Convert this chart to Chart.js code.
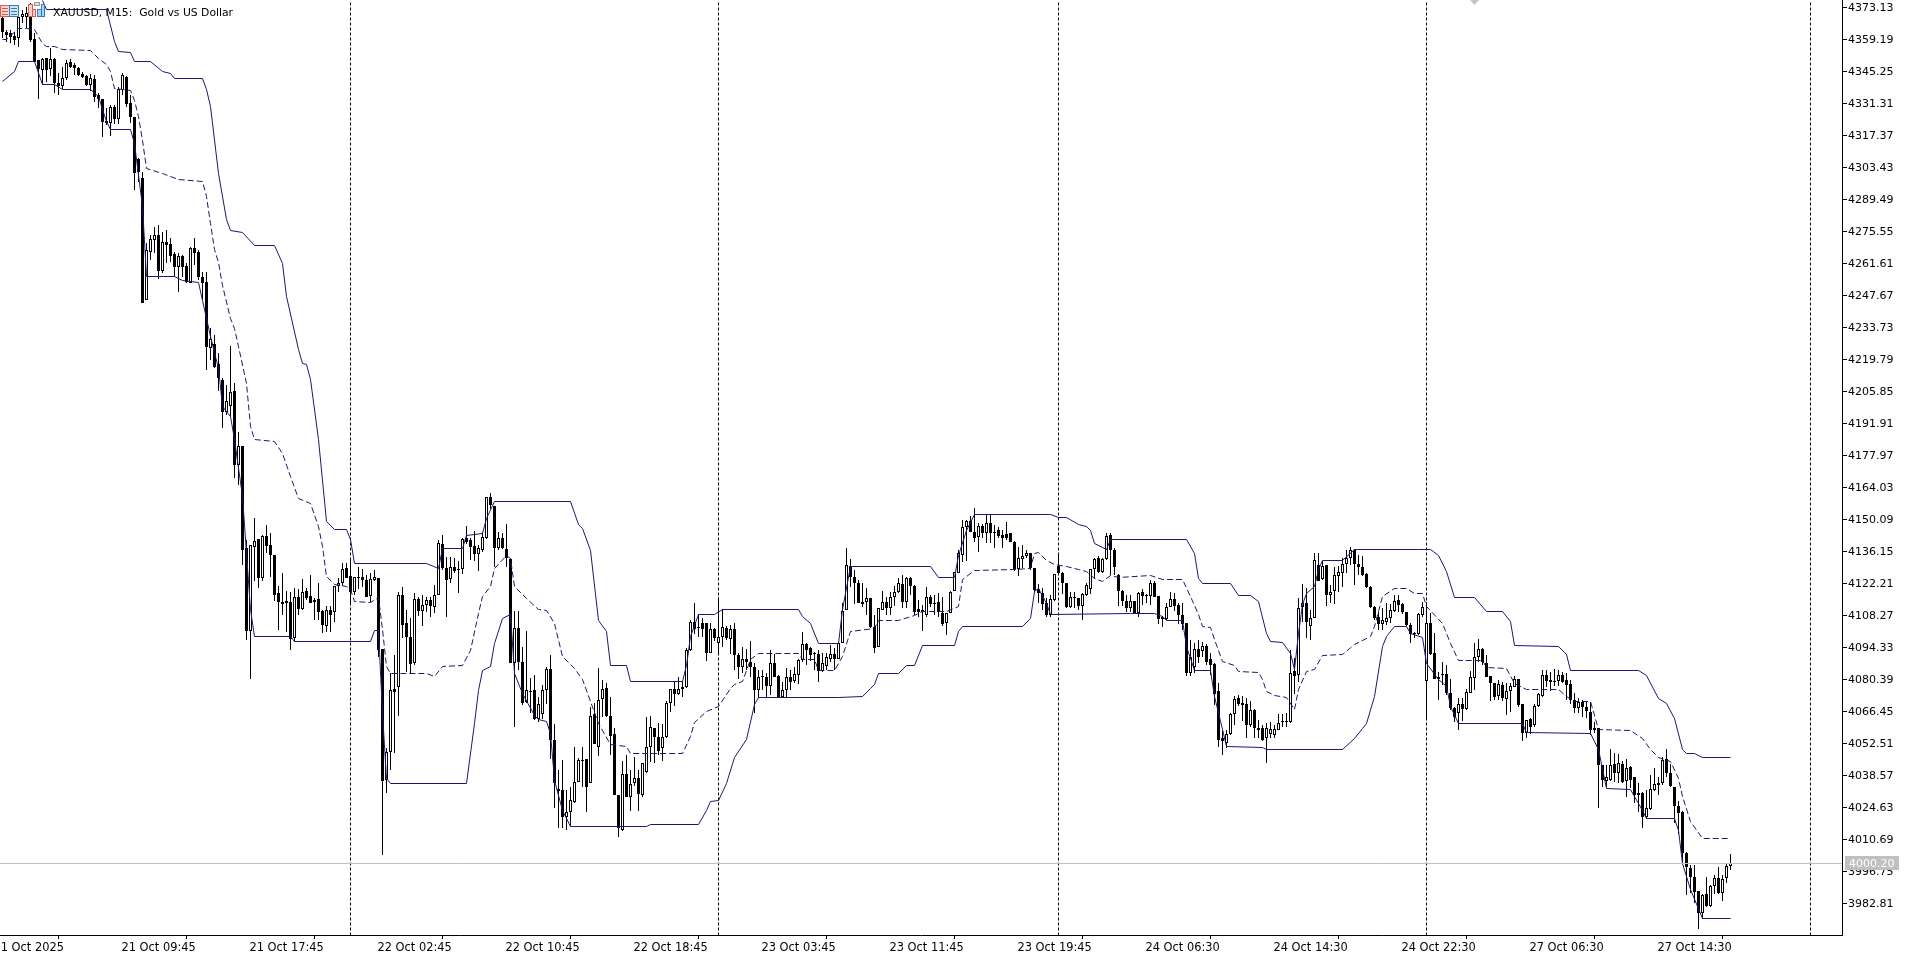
<!DOCTYPE html>
<html>
<head>
<meta charset="utf-8">
<title>XAUUSD, M15</title>
<style>html,body{margin:0;padding:0;background:#fff}canvas{display:block}</style>
<script src="https://cdn.jsdelivr.net/npm/chart.js@4"></script>
</head>
<body>
<canvas id="c" width="1912" height="954"></canvas>
<script>
const opens=[
4368.2,4362.4,4361.7,4360.5,4359.5,4368.6,4368.9,4368.9,4359.1,4350.1,
4345.7,4350.8,4346,4350.5,4340.2,4338.7,4342.1,4349,4347.9,4346.4,
4344,4343.1,4339.2,4341.8,4334.8,4332.9,4323.6,4322.8,4329.7,4324.2,
4337,4342.5,4331.2,4325.1,4306.8,4298.5,4245.5,4266.6,4271.7,4273.8,
4258.3,4270.8,4269.9,4265.6,4260,4264.7,4260.3,4253.1,4268,4266.6,
4255.4,4253.4,4224.5,4226.4,4217.7,4210.7,4196.9,4199.5,4205.8,4173.7,
4181.7,4137.4,4101.5,4138.1,4141.3,4124.3,4142.7,4138.8,4134.5,4117.8,
4113.9,4114.3,4113.9,4098.2,4116,4110.9,4118.9,4116.6,4113.9,4115.3,
4110.1,4103.7,4110.5,4109.5,4121,4122.4,4128.7,4125.3,4118.1,4124.7,
4124.7,4123.6,4116.6,4123.6,4124.3,4093.3,4036.4,4048.8,4075.9,4076.8,
4117,4104.7,4098.9,4087.5,4115.1,4110.2,4112.6,4114.8,4111.9,4117,
4139.2,4128.6,4123.8,4129.1,4128.2,4128.2,4141.7,4141,4138.3,4134.9,
4136.6,4141.7,4159.5,4155.8,4137.3,4141.7,4136.9,4132.5,4087.5,4102.5,
4088,4070.5,4075.3,4075.6,4062.8,4065.2,4075.6,4084.6,4053.8,4032.4,
4032.1,4020.4,4022.6,4027,4035.7,4045.1,4045.4,4035.3,4065.2,4050.6,
4071.6,4076.3,4064.3,4056.4,4029.9,4014.7,4039,4029.2,4035,4037.1,
4029.9,4040.1,4050.6,4058.9,4055.3,4050.2,4055,4069.8,4075.9,4073.7,
4076.8,4076.8,4093.1,4105.4,4103.2,4104.7,4104.7,4091.9,4102.1,4096,
4098.6,4102.5,4097.7,4102.2,4090.9,4085.8,4089,4088,4085.8,4075.6,
4081.7,4081.4,4077.5,4087.3,4081.7,4072.7,4075.6,4081.4,4079.7,4082.2,
4088.7,4095.7,4093.8,4091.6,4091.3,4084,4086.2,4089,4091.3,4089,
4096.3,4110.5,4129.7,4125,4122.4,4113.1,4114.1,4115.6,4102.9,4094.5,
4110.5,4114.1,4111.2,4116,4118.5,4121.8,4114.1,4124.3,4120.9,4110.8,
4110.5,4108.3,4116.3,4113.7,4114.1,4109,4105,4109.3,4118.9,4126.7,
4134.4,4146.8,4149.4,4144.6,4142.1,4147.1,4143.9,4148.2,4144.6,4145.3,
4143.2,4143.6,4143.9,4140.2,4128.2,4132.6,4134,4135.2,4128.6,4119.5,
4118,4113.4,4108.3,4114.8,4129.7,4126.8,4122.1,4111.7,4116,4115.6,
4112,4117,4119.5,4128.2,4133,4127.2,4132.6,4143.2,4136.7,4125.8,
4118.9,4114.4,4111.3,4114.2,4109.1,4118.1,4117.2,4116.6,4122.1,4116.6,
4107.6,4106.5,4111.7,4115.2,4112.7,4108.3,4104.7,4083,4085.8,4093.4,
4092.4,4094.8,4089,4086.9,4075,4054.6,4052.7,4056.5,4065.2,4072.1,
4069.9,4069.6,4060.4,4067,4059,4059,4054.6,4056.5,4056.1,4058.3,
4062.2,4062.2,4061.5,4083.7,4082.2,4111.7,4113.7,4103.6,4106.9,4130.1,
4123.9,4130.1,4117,4118.9,4125.3,4126.8,4130.6,4133,4136.7,4130.6,
4129.4,4126.2,4120.7,4111.7,4107.6,4104.4,4105.4,4106.9,4110.2,4114.9,
4113.1,4109.4,4104,4100.4,4100.1,4108.3,4079.7,4104.9,4091.6,4080.3,
4082.6,4082.6,4074.4,4067.6,4065.4,4069.5,4067.2,4074.4,4080.7,4090.1,
4093.3,4087.2,4081.7,4078.5,4073,4077.8,4071.5,4075.3,4077.1,4080.2,
4069.5,4057,4062.8,4060.4,4068.6,4073,4082.1,4080,4079.7,4079.7,
4082.1,4080,4078.2,4071.2,4067.6,4070.5,4068.3,4066.2,4058.9,4058.9,
4042.9,4036.1,4036.4,4043.4,4039.6,4043.4,4036.1,4041.9,4037.6,4030.6,
4030.6,4020.1,4023.6,4032,4034.9,4034.9,4045.4,4039.3,4033.5,4025.1,
4022.6,4004.7,3997.9,3994.3,3988,3978.6,3986.6,3981.5,3990.2,3993.6,
3987.3,3993.6,3999.1];
const highs=[
4373.3,4363.1,4363.1,4362.4,4371.8,4371.8,4373.3,4374.7,4361.7,4350.1,
4350.8,4350.8,4355.1,4350.8,4344.3,4347.2,4350.1,4350.4,4348.9,4347.2,
4345,4343.5,4344,4343.5,4335.5,4332.9,4329,4330.5,4330.5,4338.2,
4344.3,4343.1,4334.8,4325.4,4307.2,4301.4,4270.2,4273.8,4277.5,4278.2,
4275.3,4276,4272.4,4266.6,4266.1,4265.1,4261.8,4268.7,4272.4,4267.3,
4257.9,4257.9,4233.2,4230.3,4222.3,4211.4,4208.5,4225.5,4209.3,4187.8,
4182,4141,4138.8,4150.4,4141.3,4143.2,4147.5,4143.9,4134.5,4120.9,
4126.5,4118.9,4118.5,4119.9,4119.5,4123.9,4119.9,4125.8,4115.6,4122.1,
4110.5,4112,4112,4121,4124.3,4130.8,4130.8,4132.3,4125,4129.4,
4128.2,4125.8,4126.5,4127.9,4124.3,4093.3,4050.2,4082.9,4090.9,4118.5,
4120.3,4110.5,4106.8,4117.7,4116,4117,4116.3,4116.3,4121.4,4141,
4143.1,4133.7,4133.4,4133,4132,4141.7,4147.1,4141.7,4145,4138.8,
4144.6,4159.5,4161.3,4155.8,4144.6,4143.9,4148,4133,4110.2,4110.2,
4094.5,4101.5,4080.7,4082.2,4072.4,4077.8,4085.8,4090.9,4060.8,4040.8,
4045.1,4032.1,4033.5,4051,4045.9,4050.9,4045.4,4068.4,4069.8,4085.1,
4080,4078.5,4072.7,4058.9,4029.9,4044.8,4047.3,4040.8,4046.3,4040.8,
4043.7,4063.7,4064.3,4058.9,4061.1,4060.8,4071,4075.9,4079.3,4081.1,
4079.7,4093.8,4106.1,4113.7,4108.7,4106.8,4105,4105,4102.5,4116.3,
4110.8,4103.5,4103.9,4105,4091.6,4094.5,4093.3,4097.1,4087.3,4084.3,
4084.3,4082.9,4093,4091.3,4082.2,4079.3,4085.1,4084.3,4085.8,4089,
4101,4096.3,4094.5,4092.3,4093,4091.6,4091.9,4095.2,4093.8,4096.7,
4113.4,4137.3,4132.6,4127.9,4123.6,4122.1,4119.9,4115.6,4108.3,4111.2,
4118.9,4116.3,4118.5,4120.9,4124.3,4125.7,4125,4125,4121.4,4114.8,
4112.7,4120.4,4117,4117,4117.7,4116,4109,4118.9,4127.2,4136.6,
4149.7,4149.7,4151.4,4154.8,4148.5,4147.9,4151.9,4152.3,4147.5,4146.8,
4145.3,4149,4144.2,4140.7,4138.1,4138.8,4136.6,4135.5,4128.6,4121.8,
4119.9,4115.6,4117,4126.2,4134.4,4127.1,4122.4,4118.1,4118.5,4115.6,
4117.8,4122.1,4128.2,4133,4133.8,4133.3,4143.9,4143.9,4137.4,4126.2,
4119.2,4117.1,4117.1,4114.2,4118.1,4119.5,4117.5,4123.6,4122.9,4116.6,
4107.9,4113.7,4118.1,4117.8,4113.4,4113.4,4104.7,4097.5,4096.3,4097.5,
4096.7,4095.7,4091.7,4087.3,4078.6,4058.3,4058.3,4065.5,4072.8,4073.5,
4072.8,4072.1,4071,4067.3,4062.6,4060.4,4061.2,4061.5,4060.4,4065.2,
4065.2,4065.5,4093.1,4089.5,4115.6,4121.8,4120,4110.5,4135.2,4135.2,
4131.6,4130.1,4121.4,4129.1,4129.7,4133,4136.7,4138.1,4137,4134.5,
4134,4126.5,4121,4112.3,4109.8,4111.3,4113.4,4113.1,4117,4117,
4113.4,4109.7,4104.7,4101.1,4109.1,4114.1,4114.1,4109,4100.3,4083.6,
4088,4086.5,4080.2,4068.3,4072,4072,4075.9,4084,4095.9,4097.8,
4093.8,4090.9,4081.7,4078.8,4080,4079.2,4078.5,4078.8,4081.7,4080.2,
4069.5,4062.5,4063.3,4069.5,4074.4,4084.3,4084.3,4083.6,4084.6,4084.3,
4083.6,4082.9,4080,4074.2,4072,4071.2,4070.5,4070.5,4061.8,4058.9,
4042.9,4042.9,4049.7,4048.3,4047.7,4044.8,4045.4,4042.5,4037.6,4034.9,
4031.3,4032,4038.6,4041.5,4037.6,4046.3,4049.7,4043.4,4033.5,4027.4,
4023,4005.2,3999.4,3999.4,3988,3986.7,3994,3990.7,3995,3998.4,
3995,4000.4,4004.2];
const lows=[
4359.5,4358,4357.3,4356.6,4355.9,4366,4363.9,4358,4349.3,4332.9,
4339.2,4340.6,4343.1,4335.8,4334.8,4337.3,4341.4,4346.4,4343.5,4343.1,
4342.1,4338.7,4336.7,4331.9,4329,4316.7,4321.8,4317,4322.2,4322.2,
4334.8,4329.7,4322.5,4293.4,4297.1,4244.4,4245.5,4262.9,4265.8,4254.5,
4257.4,4261.5,4262.2,4255.4,4249.2,4255.7,4253.1,4252.8,4260.8,4254.2,
4245.5,4215,4219.4,4215.8,4206,4189.6,4195.5,4194.7,4167.9,4165,
4130.1,4097.2,4080.6,4122.9,4120.2,4122.9,4135.2,4125,4114.6,4101.8,
4108.3,4101.1,4093.1,4096.7,4108.3,4110.5,4114.9,4113.4,4106.2,4106.2,
4100.4,4101.1,4101.1,4105.4,4118.5,4121,4124.3,4112.7,4117,4119.5,
4120.7,4116,4114.1,4123.3,4090.2,4003.9,4030.9,4040.8,4048,4064.3,
4098.1,4083.6,4082.9,4086.5,4107.9,4103.5,4109.7,4107.3,4109.3,4117,
4127.9,4107.6,4122.4,4126.4,4118,4126.2,4139.2,4132.3,4132,4127.6,
4135.9,4141.3,4154.3,4129.1,4136.6,4137,4129.1,4087.5,4059.7,4084.3,
4069.1,4070.1,4065.5,4062.6,4061.8,4062.8,4069.5,4045.4,4024.1,4015.4,
4015.4,4014.6,4016.4,4026.3,4035.7,4033.5,4022.6,4035.3,4052.1,4046.9,
4064,4064,4047.3,4029.9,4011.4,4014.4,4029.2,4023.1,4033.8,4023.1,
4028.9,4039.6,4044.4,4044,4047.3,4044.8,4054.6,4066.2,4068.7,4073.4,
4072.7,4076.4,4092.8,4100,4098.9,4098.6,4088.4,4091.9,4097.1,4090.9,
4094.5,4097.4,4091.5,4084.3,4080.3,4083.2,4084.3,4081.4,4065.5,4072,
4075.6,4072,4073.5,4081.2,4072.4,4072,4072,4075.6,4078.5,4078.2,
4088,4086.5,4088.4,4084.3,4079.3,4083.6,4084.3,4088,4084.3,4089,
4096,4110.5,4120.4,4113.1,4113.4,4111.6,4108.3,4102.5,4091.6,4094.5,
4110.5,4108.3,4108.3,4112,4117.7,4111.2,4111.2,4117,4108.3,4107.6,
4101.5,4107.3,4111.6,4108.3,4107.6,4103.5,4099.6,4109,4118.9,4126.5,
4131.5,4132,4144.6,4140.2,4135.9,4141.7,4139.8,4139.8,4137.3,4141.7,
4137.3,4141,4140.2,4127.6,4125.3,4128.6,4133,4127.9,4118.5,4113.4,
4110.5,4107.3,4107.3,4114.5,4125.7,4117.5,4111.3,4111.3,4111.3,4110.5,
4106.2,4116.6,4117.5,4123.9,4126.5,4126.8,4132.3,4125.8,4125.8,4112,
4112,4109.4,4109.8,4108.8,4107.3,4112.7,4113.4,4112.7,4116,4104.4,
4103,4105.9,4111.7,4110.2,4104.4,4101.8,4081.8,4081.5,4083.2,4087.3,
4090.2,4086.6,4082.2,4069.1,4051,4047.4,4050.3,4056.1,4060.4,4068.7,
4061.9,4054.6,4059.7,4054.6,4054.6,4053.6,4044,4054.6,4054.6,4058,
4059.7,4059.7,4061.2,4073.9,4079.3,4105.4,4098.2,4097.5,4106.9,4122.9,
4123.6,4112,4113.4,4113.1,4118.5,4120.7,4126.5,4130.1,4121.4,4125.8,
4125.3,4120,4111.3,4106.2,4101.8,4101.8,4104,4105,4109.8,4109.8,
4108.8,4103.3,4096.3,4098.2,4099.6,4107.3,4062.5,4090.9,4080.3,4071.2,
4077.8,4073.4,4066.9,4061.8,4058.2,4062.2,4066.9,4074.2,4075.6,4088,
4086.5,4081.1,4071,4071.2,4071.2,4071,4064.7,4066.2,4077.1,4068.3,
4053.5,4054.5,4056.4,4059.6,4068,4072.7,4077,4075.3,4077.3,4077.3,
4078.5,4071.2,4069.5,4065.4,4065.7,4064,4063.3,4056,4056.7,4024.1,
4033.2,4033.5,4036.1,4035.7,4035,4035,4028.8,4032.8,4026.2,4022.6,
4015.3,4019.3,4023.3,4031.7,4029.9,4034.2,4037.9,4033.5,4017.5,4012.9,
3999.8,3986.3,3987,3982.7,3971.4,3975.7,3981.2,3980.9,3986.7,3986.7,
3983.8,3991.7,3997.1];
const closes=[
4362.1,4361,4360.2,4358.8,4368.9,4370.1,4370.4,4358.8,4349.3,4346.1,
4350.5,4345.7,4350.5,4339.9,4338.7,4342.1,4348.9,4347.2,4346.4,4343.5,
4342.8,4339.2,4342.1,4334.1,4332.9,4322.9,4322.8,4329.4,4324.2,4337.3,
4343.4,4330.9,4325.1,4300.7,4301.1,4244.4,4267.3,4272.1,4273.8,4258.3,
4270.8,4269.5,4264.7,4260,4264.7,4260,4253.5,4268,4266.1,4255.4,
4253.1,4225.2,4228.4,4216.5,4211.4,4196.9,4201.3,4205.3,4173.7,4182,
4136.4,4101.5,4138.8,4140.7,4124.3,4142.7,4138.4,4134.5,4117,4113.9,
4113.1,4113.6,4097.7,4116,4110.9,4118.5,4115.6,4113.4,4114.9,4109.8,
4104,4110.5,4108.3,4121,4122.4,4128.2,4124.6,4118.1,4124.7,4124.4,
4123.6,4116.3,4123.9,4124.7,4093.1,4036.1,4048.8,4075.6,4074.9,4117,
4103.9,4098.6,4087,4115.1,4110.2,4112.6,4114.8,4112.2,4117,4139.5,
4128.6,4123.5,4129.1,4127.6,4128,4141.3,4140.2,4138.1,4134.9,4137.3,
4142.1,4159.5,4156.2,4137.6,4141.7,4137.3,4133,4087.5,4102.5,4088,
4070.1,4075.6,4075,4062.8,4069.5,4075.6,4084.9,4053.8,4035,4031.8,
4020.4,4022.6,4027.7,4035.7,4045.1,4044.8,4033.5,4064.3,4052.1,4071.3,
4076.1,4064.3,4055.6,4029.9,4015.4,4039,4029.2,4034.7,4037.1,4030.3,
4043.7,4050.6,4059.4,4055.3,4049.2,4055,4069.8,4075.9,4073.7,4075.9,
4076.1,4093.1,4105.4,4102.1,4102.5,4102.1,4091.9,4102.1,4098.1,4098.6,
4102.9,4098.1,4102.2,4090.9,4085.8,4089,4087.6,4085.8,4075.6,4081.2,
4081.2,4077.5,4087.3,4081.4,4072.7,4075.6,4081.2,4079.3,4082.6,4088.7,
4095.5,4093,4090.9,4091.3,4084,4087.3,4089.9,4091.3,4089,4096.3,
4110.2,4130,4125,4122.1,4113.7,4114.1,4115.6,4103.2,4093.8,4111.2,
4114.1,4111.2,4116,4118.5,4122.1,4114.1,4124.3,4120.9,4109.8,4109.8,
4109.8,4116.3,4113.1,4113.1,4109.8,4104.4,4109,4118.5,4127.2,4135.2,
4146.8,4149.4,4144.6,4141.7,4147.1,4144.2,4148.2,4144.2,4144.2,4142.7,
4141.7,4141.7,4140.2,4128.2,4133,4134,4135.2,4128.6,4119.2,4118,
4113.1,4108.3,4115.1,4126.2,4126.7,4122.1,4111.7,4116,4115.5,4112,
4117.5,4121.4,4128.2,4132.6,4127.2,4132.6,4142.9,4136.7,4129.4,4118.9,
4114.2,4111.3,4114.4,4109.1,4117.8,4116.6,4116.9,4122.1,4116.3,4106.5,
4106.5,4111.7,4115.2,4112.3,4108.3,4104.4,4083,4089.9,4093.4,4089.9,
4094.8,4088,4086.6,4073.9,4053.9,4053.2,4056.5,4065.2,4071.6,4069.6,
4069.1,4060.4,4067,4059,4058,4053.9,4059,4058.5,4058.5,4061.2,
4061.6,4061.6,4082.9,4081.8,4111.3,4113.7,4105.4,4106.9,4132.3,4123.3,
4129.7,4117,4118.5,4125.8,4126.9,4130.6,4133,4136.4,4130.6,4129.1,
4125.8,4120.4,4111.7,4106.9,4104.4,4106.2,4106.9,4110.5,4114.2,4112.7,
4109.4,4104,4100.1,4099.8,4108.8,4111.9,4104.9,4091.3,4080.3,4081.4,
4082,4074.2,4067.6,4063.7,4069.5,4067.2,4074.9,4081.1,4090.1,4093.3,
4087.9,4081.4,4078.5,4072.7,4078.2,4072,4075.3,4077.3,4080.2,4069.1,
4057,4062.5,4059.6,4068.6,4073.9,4082.1,4079.7,4079.2,4079.2,4082.1,
4079.2,4077.8,4071.2,4067.6,4070.5,4068.3,4066.6,4058.2,4058.2,4042.9,
4036.4,4037.6,4042.9,4039.6,4043.7,4035.7,4041.5,4036.4,4029.9,4029.9,
4020.4,4024,4032.3,4034.7,4034.4,4045.1,4039.3,4033.8,4025.1,4021.9,
4004.7,3998.4,3994.3,3987.8,3978.6,3986.3,3981.5,3990.2,3993.6,3987,
3993.1,3999,4000.2];

const upperBars=[10,11,26,28,29,32,33,37,40,42,43,50,51,52,54,56,57,60,63,68,70,71,74,75,76,77,79,81,83,86,87,88,106,109,110,115,116,120,121,123,142,144,145,147,149,151,152,156,157,170,171,172,174,178,180,199,200,202,204,209,210,212,232,234,238,239,241,243,262,264,266,269,271,272,273,276,277,296,298,299,300,307,309,312,314,316,317,320,322,323,324,325,326,328,329,330,335,338,354,357,359,361,363,368,371,375,377,378,389,391,392,409,411,414,416,418,420,421,423,425,432];
const upperValues=[4376.2,4372.1,4372.1,4358,4353.7,4353.3,4349.6,4349.6,4345,4344.3,4342.1,4342.1,4337,4329.7,4300.7,4280.4,4276,4274.9,4269.1,4269.1,4261.5,4247,4223.8,4217.7,4217.2,4210.7,4184.6,4149,4145.4,4145.4,4141,4130.8,4130.8,4128.6,4137.3,4137.3,4143.1,4143.9,4150.4,4157.7,4157.7,4147.5,4146,4136.6,4106.1,4101,4086.1,4086.1,4079.5,4079.5,4086.5,4098.9,4108.3,4108.6,4110.8,4110.8,4107.6,4104.4,4096,4096,4110.5,4129.4,4129.4,4124.7,4124.7,4134.4,4145.3,4152,4152,4150.9,4150.9,4147.6,4146.8,4145.1,4139.6,4137,4141.3,4141.3,4135.2,4124.3,4122.1,4122.1,4117,4117,4114.2,4100.4,4096.7,4096.4,4091.7,4084.4,4100.4,4112.7,4117.8,4120.7,4128,4132,4132,4137,4137,4136.9,4134.4,4127.2,4116,4116,4110,4110,4105.4,4094.8,4094.5,4090.9,4084.2,4084.2,4082.1,4072,4069.8,4063.3,4049.5,4048,4048,4046.3,4046.3];
const middleBars=[0,1,4,6,8,10,11,13,15,22,24,26,27,28,32,33,34,35,36,40,44,50,51,52,53,54,55,57,58,59,61,62,63,68,70,72,74,77,79,80,81,83,86,87,88,92,94,95,96,97,106,108,110,115,117,119,120,122,123,126,127,128,131,134,136,138,140,143,145,147,149,152,156,157,170,172,173,176,179,182,183,185,187,189,199,200,203,204,208,210,212,218,219,224,228,230,236,239,240,243,253,257,258,259,261,263,266,269,271,273,275,277,279,287,290,295,297,299,300,302,303,305,308,309,314,315,316,318,321,323,324,326,328,330,335,338,342,343,345,348,351,353,355,356,360,362,364,370,371,376,378,381,389,391,393,397,399,407,410,412,414,417,419,420,422,425,432];
const middleValues=[4359,4359,4363.9,4363.9,4363.4,4357.3,4355.9,4355.9,4354.7,4354.4,4350.8,4347.9,4345,4337.7,4336.7,4332.6,4325.4,4315.2,4302.9,4300.7,4298.1,4297.1,4290.5,4279,4267.3,4262,4252,4237.6,4233.2,4225.2,4209.3,4190.4,4184.6,4183.8,4178.8,4168.6,4159.2,4157,4146.8,4138.1,4125,4121.4,4120.7,4119.2,4114.1,4113.9,4116,4101.8,4085.8,4082.9,4082.9,4081.4,4085.8,4086.1,4093,4109,4116.3,4120.6,4128.6,4134.4,4133,4120.6,4115.6,4110.5,4110.2,4104.7,4090.1,4085,4080,4070.5,4061.1,4051.7,4050.9,4047.8,4048,4055.3,4061.5,4066.2,4068.4,4076.4,4078.1,4079.3,4088.7,4091.6,4091.6,4088.7,4088.7,4084.3,4084,4090.2,4101,4102.5,4106.1,4106.1,4107.9,4109.8,4109.8,4111.9,4123.6,4127.6,4127.9,4128.6,4135.2,4135.6,4132,4130.1,4129.4,4127.9,4127.2,4124.3,4122.9,4125.3,4124.8,4125.3,4123.6,4123.6,4116.3,4108.3,4103.3,4103,4097.5,4088,4086.1,4083.7,4083.2,4080,4075,4073.2,4072.5,4067.3,4075.7,4083.7,4084.4,4090.6,4090.9,4095.3,4098.9,4103.3,4116.3,4120,4120,4117.7,4117.7,4111.9,4104.6,4095.9,4088.4,4088.4,4085.5,4085,4078.5,4075.9,4075.9,4072.7,4070.5,4070.5,4058.5,4057.9,4054.6,4049.5,4046.3,4044.4,4037.1,4029.1,4018.3,4011,4011];
const lowerBars=[0,3,4,8,10,13,15,22,24,25,26,27,32,33,35,36,43,45,49,50,52,54,55,57,58,60,61,62,63,72,73,92,93,94,95,96,97,116,118,119,120,122,123,125,127,128,130,133,134,136,137,138,140,142,161,162,174,176,177,179,181,183,186,188,189,209,215,217,218,219,224,226,228,230,238,239,240,255,257,258,259,261,262,282,288,290,291,295,296,298,302,303,305,306,315,316,335,338,340,341,343,345,346,348,351,352,355,356,359,361,362,364,380,381,397,399,401,407,410,411,418,419,420,422,425,432];
const lowerValues=[4340.6,4345,4349.6,4349.6,4339.6,4339.6,4337,4337,4334.1,4328.3,4323.2,4319.6,4319.6,4313.8,4286.2,4255.7,4255.7,4254,4253.1,4245.5,4229.6,4215.8,4199.1,4194.7,4184.6,4159.9,4135.2,4110.5,4098.9,4098.9,4096.7,4096.7,4101.6,4101.6,4065.5,4037.1,4034.7,4034.7,4061.1,4075.6,4084.1,4085.8,4096,4106.8,4108.7,4082.9,4074.2,4064.7,4062.6,4061.8,4056.7,4036.4,4023.3,4016.1,4016.1,4017.1,4017.1,4023.3,4027,4027.4,4035,4046,4053.9,4069.1,4072.3,4072.4,4072.7,4076.4,4078.2,4082.6,4082.6,4086.1,4086.5,4094.9,4095.1,4101,4103.2,4103.2,4106.8,4118.5,4119.9,4113.4,4108.5,4108.8,4109.1,4107.6,4105.7,4105.7,4094.6,4084,4084,4072.8,4058.3,4051,4050.7,4049.8,4049.8,4054.6,4059,4060.9,4072.8,4094.6,4098.9,4103.3,4103.4,4100.3,4098.5,4087.2,4080,4077,4068.3,4061.1,4061.1,4057,4056.8,4049.5,4032.8,4032.3,4023.3,4019.7,4019.7,4014.6,4000.1,3988.5,3976.1,3976.1];

const separatorBars=[87,179,264,356,452];
const currentPrice=4000.20;
const priceTicks=[4373.13,4359.19,4345.25,4331.31,4317.37,4303.43,4289.49,4275.55,4261.61,4247.67,4233.73,4219.79,4205.85,4191.91,4177.97,4164.03,4150.09,4136.15,4122.21,4108.27,4094.33,4080.39,4066.45,4052.51,4038.57,4024.63,4010.69,3996.75,3982.81];
const timeTickBars=[-2,30,62,94,126,158,190,222,254,286,318,350,382,414];
const timeTickLabels=["21 Oct 2025","21 Oct 09:45","21 Oct 17:45","22 Oct 02:45","22 Oct 10:45","22 Oct 18:45","23 Oct 03:45","23 Oct 11:45","23 Oct 19:45","24 Oct 06:30","24 Oct 14:30","24 Oct 22:30","27 Oct 06:30","27 Oct 14:30"];
const chartTitle="XAUUSD, M15:  Gold vs US Dollar";

const Y_MAX=4376.2, Y_MIN=3968.89, X_MIN=-0.625, X_MAX=459.875;
const NAVY='#191970';
const lineData=(xs,ys)=>xs.map((x,i)=>({x,y:ys[i]}));
const lineBase={type:'line',pointRadius:0,borderWidth:1,tension:0,fill:false};
const noScalePadding=s=>{s.paddingLeft=0;s.paddingRight=0;s.paddingTop=0;s.paddingBottom=0;};

const snapPlugin={
  id:'snap',
  afterDatasetsUpdate(chart){
    chart.getSortedVisibleDatasetMetas().forEach(meta=>{
      if(meta.type==='bar'){
        meta.data.forEach(el=>{
          let t=Math.round(el.y),b=Math.round(el.base);
          if(t===b){b=t+1;}
          el.y=t;el.base=b;
        });
      }else{
        meta.data.forEach(el=>{el.y=Math.floor(el.y)+0.5;});
      }
    });
  }
};
const overlayPlugin={
  id:'overlay',
  afterDraw(chart){
    const c=chart.ctx,y=chart.scales.y;
    c.save();
    const py=Math.floor(y.getPixelForValue(currentPrice))+0.5;
    c.fillStyle='#c0c0c0';
    c.fillRect(1845,Math.round(py-7.5),54,14);
    c.fillStyle='#ffffff';
    c.font="11px 'DejaVu Sans'";
    c.textAlign='left';c.textBaseline='middle';
    c.fillText(currentPrice.toFixed(2),1849,py+1);
    c.fillStyle='#000';
    c.font="10.8px 'DejaVu Sans'";
    c.textBaseline='middle';
    c.fillText(chartTitle,53,13);
    c.lineWidth=1;
    c.fillStyle='#fbd5d0';c.strokeStyle='#e0584e';
    c.fillRect(0.5,5.5,9,11);c.strokeRect(0.5,5.5,9,11);
    c.fillStyle='#e0584e';
    for(const r of [8,11,14]){c.fillRect(2,r,6,1);}
    c.fillStyle='#cfe6f6';c.strokeStyle='#2d7fc0';
    c.fillRect(9.5,5.5,9,11);c.strokeRect(9.5,5.5,9,11);
    c.fillStyle='#2d7fc0';
    for(const r of [8,11,14]){c.fillRect(11,r,6,1);}
    c.fillStyle='#fbd5d0';c.strokeStyle='#e0584e';
    c.fillRect(28.5,4.5,4,12);c.strokeRect(28.5,4.5,4,12);
    c.fillRect(32.5,9.5,3,7);c.strokeRect(32.5,9.5,3,7);
    c.fillStyle='#a9d3f0';c.strokeStyle='#2d7fc0';
    c.fillRect(37.5,9.5,4,7);c.strokeRect(37.5,9.5,4,7);
    c.fillRect(41.5,4.5,3,12);c.strokeRect(41.5,4.5,3,12);
    c.fillStyle='#dddddd';c.strokeStyle='#999999';
    c.fillRect(34.5,2.5,5,3);c.strokeRect(34.5,2.5,5,3);
    c.fillStyle='#c4c4c4';
    c.beginPath();c.moveTo(1470,0);c.lineTo(1479,0);c.lineTo(1474.5,5);c.closePath();c.fill();
    c.restore();
  }
};

new Chart(document.getElementById('c'),{
  data:{datasets:[
    {type:'bar',label:'wick',order:5,
      data:lows.map((v,i)=>({x:i,y:[v,highs[i]]})),
      backgroundColor:'#000',borderWidth:0,barThickness:1,grouped:false,inflateAmount:0},
    {type:'bar',label:'body',order:4,
      data:opens.map((v,i)=>({x:i,y:[v,closes[i]]})),
      backgroundColor:opens.map((v,i)=>closes[i]>v?'#fff':'#000'),
      borderColor:'#000',borderWidth:1,borderSkipped:false,barThickness:3,grouped:false,inflateAmount:0},
    {...lineBase,label:'upper',order:3,data:lineData(upperBars,upperValues),borderColor:NAVY},
    {...lineBase,label:'middle',order:2,data:lineData(middleBars,middleValues),borderColor:NAVY,borderDash:[6,3]},
    {...lineBase,label:'lower',order:1,data:lineData(lowerBars,lowerValues),borderColor:NAVY},
    ...separatorBars.map(b=>({...lineBase,label:'separator',order:6,
      data:[{x:b,y:Y_MIN},{x:b,y:Y_MAX}],borderColor:'#000',borderDash:[3,2]})),
    {...lineBase,label:'price',order:0,
      data:[{x:X_MIN,y:currentPrice},{x:X_MAX,y:currentPrice}],borderColor:'#c0c0c0'}
  ]},
  options:{
    responsive:false,animation:false,
    layout:{padding:0},
    plugins:{legend:{display:false},title:{display:false},tooltip:{enabled:false}},
    scales:{
      x:{type:'linear',min:X_MIN,max:X_MAX,offset:false,
        afterBuildTicks(s){s.ticks=timeTickBars.map(v=>({value:v}));},
        afterFit(s){s.height=19;noScalePadding(s);},
        grid:{drawOnChartArea:false,tickLength:4,tickColor:'#000',tickWidth:1},
        border:{color:'#000',width:1},
        ticks:{autoSkip:false,maxRotation:0,minRotation:0,align:'start',padding:2,labelOffset:-1,color:'#000',
          font:{family:"'DejaVu Sans'",size:11.4},
          callback:v=>timeTickLabels[timeTickBars.indexOf(v)]}},
      y:{type:'linear',position:'right',min:Y_MIN,max:Y_MAX,
        afterBuildTicks(s){s.ticks=priceTicks.map(v=>({value:v}));},
        afterFit(s){s.width=70;noScalePadding(s);},
        grid:{drawOnChartArea:false,tickLength:5,tickColor:'#000',tickWidth:1},
        border:{color:'#000',width:1},
        ticks:{autoSkip:false,padding:1,labelOffset:1,color:'#000',
          font:{family:"'DejaVu Sans'",size:11},crossAlign:'near',
          callback:v=>v.toFixed(2)}}
    }
  },
  plugins:[snapPlugin,overlayPlugin]
});
</script>
</body>
</html>
